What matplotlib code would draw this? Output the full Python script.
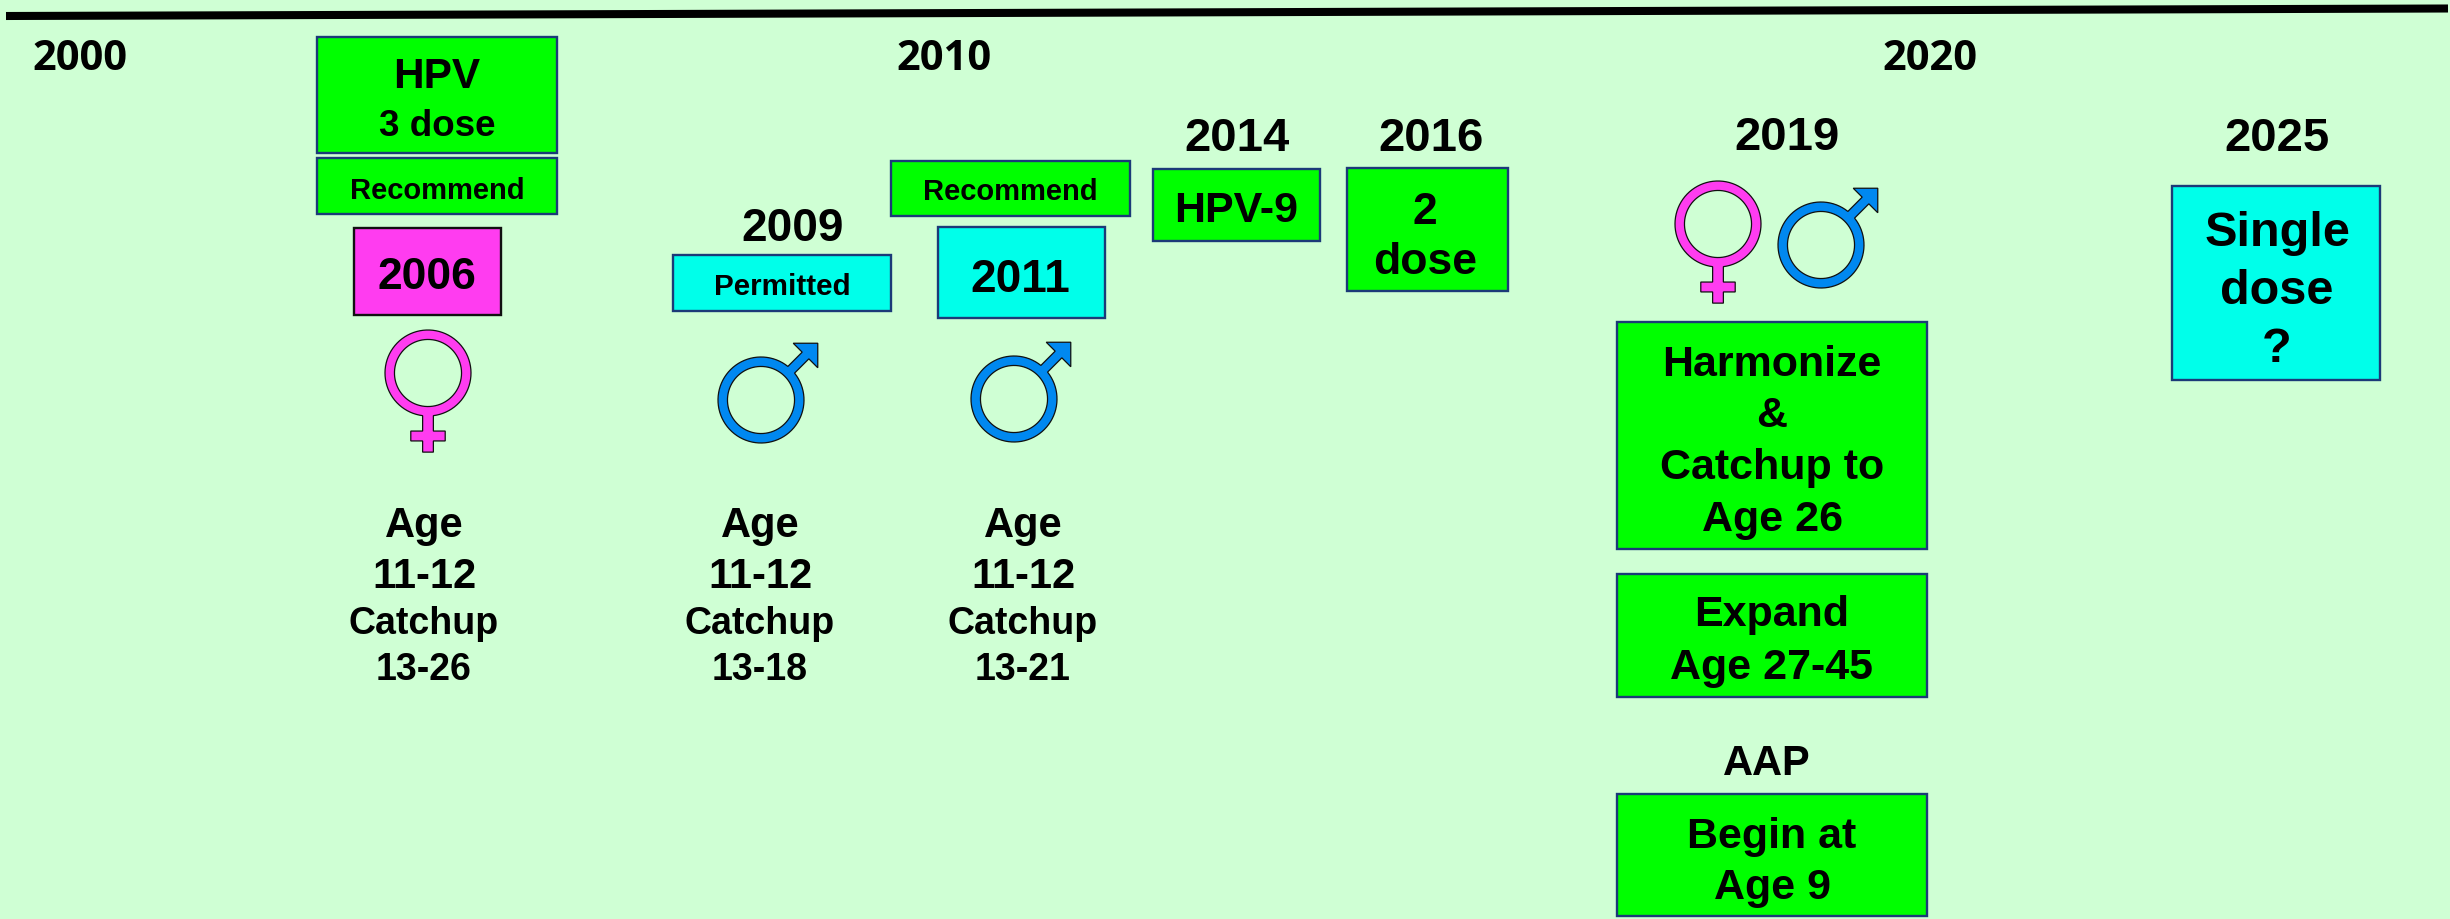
import matplotlib
matplotlib.use('Agg')
import matplotlib.pyplot as plt
import numpy as np
from matplotlib.patches import Rectangle, PathPatch
from matplotlib.path import Path

# Timeline text
decade_labels = ['2000', '2010', '2020']
year_labels = ['2009', '2014', '2016', '2019', '2025']
age_main = ['Age', '11-12']
catchup_ranges = ['13-26', '13-18', '13-21']
box_2019 = ['Harmonize', '&', 'Catchup to', 'Age 26']
box_expand = ['Expand', 'Age 27-45']
box_aap = ['Begin at', 'Age 9']
box_single = ['Single', 'dose', '?']

BG = '#CFFFD4'
GREEN = '#00FF00'
MAGENTA = '#FF3CF0'
CYAN = '#00FFEA'
BLUE = '#0088F0'
NAVY = '#1B3A78'
FONT = 'Liberation Sans'

fig = plt.figure(figsize=(24.5, 9.2), dpi=100, facecolor=BG)
ax = fig.add_axes([0, 0, 1, 1])
ax.set_xlim(0, 2450)
ax.set_ylim(920, 0)
ax.axis('off')


def box(x0, y0, x1, y1, color, edge=NAVY, lw=1.7):
    ax.add_patch(Rectangle((x0, y0), x1 - x0, y1 - y0, facecolor=color, edgecolor=edge, linewidth=lw))


def label(x, y, s, size=34, family=FONT):
    ax.text(x, y, s, fontsize=size, fontweight='bold', family=family, color='black',
            ha='center', va='center_baseline')


def ring_arc(start, end, n=80):
    # angles in degrees, y axis pointing down on the page
    t = np.radians(np.linspace(start, end, n))
    return np.column_stack([np.cos(t), np.sin(t)])


def symbol(cx, cy, r, outline, inner=0.78, color=MAGENTA):
    # one compound outline: the ring with its hole, so no line crosses the join
    hole = ring_arc(360, 0) * inner
    verts = np.vstack([outline, outline[:1], hole, hole[:1]])
    codes = ([Path.MOVETO] + [Path.LINETO] * (len(outline) - 1) + [Path.CLOSEPOLY]
             + [Path.MOVETO] + [Path.LINETO] * (len(hole) - 1) + [Path.CLOSEPOLY])
    verts = verts * r + [cx, cy]
    ax.add_patch(PathPatch(Path(verts, codes), facecolor=color, edgecolor='#101010', linewidth=0.9))


def female(cx, cy, r=43):
    w, cw = 0.125, 0.40
    a = np.degrees(np.arcsin(w))
    arc = ring_arc(90 + a, 450 - a)
    legs = np.array([[w, 1.35], [cw, 1.35], [cw, 1.58], [w, 1.58], [w, 1.84],
                     [-w, 1.84], [-w, 1.58], [-cw, 1.58], [-cw, 1.35], [-w, 1.35]])
    symbol(cx, cy, r, np.vstack([arc, legs]), color=MAGENTA)


def male(cx, cy, r=43):
    w = 0.11
    a = np.degrees(np.arcsin(w))
    arc = ring_arc(-45 + a, 315 - a)
    # shaft and arrow head, corner of the head up and to the right
    tip, head = 1.32, 0.57
    s = w * np.sqrt(0.5)
    mid = tip - head / 2
    arrow = np.array([[mid - s, -mid - s], [tip - head, -tip], [tip, -tip],
                      [tip, -tip + head], [mid + s, -mid + s]])
    symbol(cx, cy, r, np.vstack([arc, arrow]), color=BLUE)


# top rule
ax.plot([6, 2448], [17, 9.5], color='black', linewidth=5.8, solid_capstyle='butt')

# decade marks
for x, s in zip([80, 944, 1930], decade_labels):
    label(x, 55, s, size=30, family='Open Sans')

# 2006 column
box(317, 38, 557, 154, GREEN)
box(317, 159, 557, 215, GREEN)
box(354, 229, 501, 316, MAGENTA, edge='#101010')
label(437, 73, 'HPV', 30.5)
label(437, 122, '3 dose', 26.5)
label(437, 188, 'Recommend', 21)
label(427, 273, '2006', 32)
female(428, 374)

# 2009 column
label(793, 224, year_labels[0], 33)
box(673, 256, 891, 312, CYAN)
label(782, 284, 'Permitted', 21.3)
male(761, 401)

# 2011 column
box(891, 162, 1130, 217, GREEN)
box(938, 228, 1105, 319, CYAN)
label(1010, 189, 'Recommend', 21)
label(1020, 275, '2011', 33)
male(1014, 400)

# age lines below the symbols
for x, r in zip([424, 760, 1023], catchup_ranges):
    label(x, 522, age_main[0], 30)
    label(x, 573, age_main[1], 30)
    label(x, 620, 'Catchup', 27)
    label(x, 666, r, 27)

# 2014, 2016
label(1237, 134, year_labels[1], 34)
box(1153, 170, 1320, 242, GREEN)
label(1236, 206, 'HPV-9', 31)
label(1431, 134, year_labels[2], 34)
box(1347, 169, 1508, 292, GREEN)
label(1425, 208, '2', 32)
label(1425, 258, 'dose', 32)

# 2019
label(1787, 133, year_labels[3], 34)
female(1718, 225)
male(1821, 246)
box(1617, 323, 1927, 550, GREEN)
for y, s in zip([361, 412, 464, 516], box_2019):
    label(1772, y, s, 31)
box(1617, 575, 1927, 698, GREEN)
for y, s in zip([611, 664], box_expand):
    label(1772, y, s, 31)
label(1767, 760, 'AAP', 30)
box(1617, 795, 1927, 917, GREEN)
for y, s in zip([833, 884], box_aap):
    label(1772, y, s, 31)

# 2025
label(2277, 134, year_labels[4], 34)
box(2172, 187, 2380, 381, CYAN)
for y, s in zip([228, 287, 345], box_single):
    label(2277, y, s, 35)

fig.savefig('out.png', dpi=100, facecolor=BG)
